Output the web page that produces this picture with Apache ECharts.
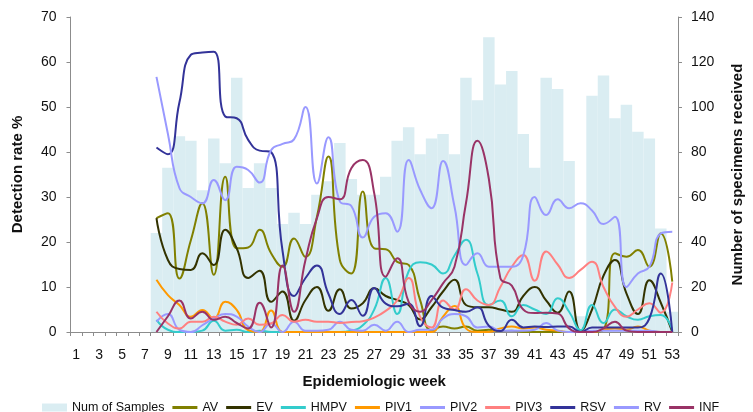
<!DOCTYPE html>
<html>
<head>
<meta charset="utf-8">
<script src="https://cdn.jsdelivr.net/npm/echarts/dist/echarts.min.js"></script>
<style>
  html, body { margin: 0; padding: 0; background: #ffffff; }
  #chart { width: 753px; height: 412px; }
</style>
</head>
<body>
<div id="chart"></div>
<script>
// Epidemiologic weeks 1..53
const weeks = ['1','2','3','4','5','6','7','8','9','10','11','12','13','14','15','16','17','18','19','20',
  '21','22','23','24','25','26','27','28','29','30','31','32','33','34','35','36','37','38','39','40',
  '41','42','43','44','45','46','47','48','49','50','51','52','53'];

// Axis ticks
const rateTicks = [0, 10, 20, 30, 40, 50, 60, 70];
const sampleTicks = [0, 20, 40, 60, 80, 100, 120, 140];

// Weeks 1-7 have no data
const noData = [null, null, null, null, null, null, null];

// Number of specimens received per week (weeks 8-53)
const samples = noData.concat([44, 73, 87, 85, 63, 86, 75, 113, 64, 75, 64, 48, 53, 48, 61, 67, 84, 68, 61, 61,
  69, 85, 91, 79, 86, 88, 79, 113, 103, 131, 110, 116, 88, 73, 113, 108, 76, 7, 105, 114,
  95, 101, 89, 86, 46, 9]);

// Detection rate % per virus (weeks 8-53)
const av = noData.concat([25.3, 26.4, 11.9, 20.4, 28.6, 12.7, 34.5, 18.6, 18.8, 22.7, 17.5, 14.5, 20.8, 16.7, 25.6, 39, 16, 13, 31.2, 18.6,
  18.4, 15.6, 14.9, 7.1, 0.4, 1.2, 0.8, 1.2, 0.3, 0.5, 0.2, 0.3, 0, 0, 0, 0, 0, 0, 0, 0.5,
  17.5, 16.7, 18.2, 14.5, 21.9, 11.2]);
const ev = noData.concat([25.3, 16, 14, 13.8, 17.5, 14.9, 22.7, 18.6, 12, 13.6, 6.7, 9, 2.5, 7.1, 10, 4.7, 9.5, 5.2, 6.4, 9.7,
  8, 7.1, 6, 2.8, 5.5, 9, 11.6, 6, 5.5, 5.5, 5, 4.5, 8, 10, 7, 4.3, 9, 0.3, 5, 12.5,
  16, 8.6, 4, 11.5, 6.5, 0]);
const hmpv = noData.concat([2.7, 0.5, 0, 0, 0.3, 2.5, 0.3, 0.5, 0, 0.3, 0, 0, 0, 0, 0, 0, 0, 0.3, 1.5, 5,
  12, 4, 13.5, 15.5, 15, 13, 17, 20.5, 13, 6, 7, 3.5, 6, 5, 4, 7.5, 4.5, 0.4, 6, 2,
  5, 3.5, 2.7, 3.5, 3.8, 0.4]);
const piv1 = noData.concat([11.6, 8.2, 6, 3.4, 4.9, 3, 6.7, 4.9, 0.4, 0, 4.8, 0, 0, 0, 0, 0, 0, 0, 0, 0,
  0, 0, 0, 0, 0, 3.4, 5.8, 0.8, 0, 0, 0.8, 1.2, 0.8, 1, 0.5, 0.3, 0, 0, 0, 0.5,
  0.8, 0.5, 1.2, 0.3, 0, 0]);
const piv2 = noData.concat([2.3, 4, 0.5, 0, 1.5, 3, 4, 3.4, 1.2, 0, 1.9, 0, 2.3, 0.3, 0.3, 0.5, 2.3, 0.5, 0.3, 1.6,
  0.3, 2.3, 0, 0.5, 0.5, 3, 4, 3.5, 1, 1.2, 0.3, 0.3, 0.3, 0.5, 2, 0.3, 0, 0, 0.3, 0.3,
  0.3, 0.3, 0.3, 0.3, 0, 0]);
const piv3 = noData.concat([4.5, 1.9, 0.8, 2.3, 2.3, 3.4, 2.3, 1.6, 3, 1.6, 1.9, 3.8, 2.3, 2.7, 2.3, 2.3, 2, 2.2, 2.4, 3.2,
  4.7, 7, 12, 3.4, 1, 7, 5, 9.5, 7, 6, 10, 14.5, 17.1, 11.4, 17.9, 15, 12, 13.8, 15.6, 10,
  5.6, 3.4, 5, 6.4, 4.3, 11]);
const rsv = noData.concat([41, 39.5, 51, 61.6, 62.1, 62.3, 47.9, 47.5, 42.7, 40.3, 40, 18, 8, 12, 14.8, 8.5, 4, 7.1, 3.6, 9.8,
  6.3, 5.7, 6.3, 1.3, 8, 5.4, 4.9, 4.5, 5.5, 1.4, 0.2, 2.7, 1, 1.2, 1.1, 1.2, 1.2, 0, 1, 1,
  1, 1, 1, 3, 13, 0]);
const rv = noData.concat([56.7, 44, 32, 30, 28.6, 33.8, 29.3, 36.7, 36, 33.2, 40.4, 41.8, 42.8, 50, 33, 43.3, 29, 28, 21, 25.6,
  26.4, 22.3, 38.2, 31.6, 27.5, 38, 27.9, 14.9, 17.5, 14.5, 14.5, 14.5, 17, 30, 26, 29.5, 27.5, 28.6, 27, 24,
  25.6, 10, 13, 14.5, 21.9, 22.3]);
const inf = noData.concat([0, 3.5, 7, 3, 4.5, 2.7, 3.4, 2, 0.8, 6.5, 1, 14.8, 4.5, 16, 25.3, 30, 29.5, 36.4, 38.2, 30.8,
  12.3, 16.4, 6.7, 4.5, 7.1, 10.8, 14.5, 28.6, 42.5, 34, 12, 10.3, 5, 4.2, 4.3, 4.1, 0.8, 0, 0, 0.8,
  2.3, 0.3, 0, 0, 0, 0]);

const virusSeries = [
  { name: 'AV',   data: av,   color: '#808000' },
  { name: 'EV',   data: ev,   color: '#333300' },
  { name: 'HMPV', data: hmpv, color: '#33cccc' },
  { name: 'PIV1', data: piv1, color: '#ff9900' },
  { name: 'PIV2', data: piv2, color: '#9999ff' },
  { name: 'PIV3', data: piv3, color: '#ff8080' },
  { name: 'RSV',  data: rsv,  color: '#333399' },
  { name: 'RV',   data: rv,   color: '#9999ff' },
  { name: 'INF',  data: inf,  color: '#993366' }
];

const FONT = '"Liberation Sans", Arial, sans-serif';
const AXIS_GRAY = '#8c8c8c';
const TEXT = '#111111';
// thin horizontal stroke used as the legend key of each line series
const LINE_KEY = 'path://M0,0H25V3H0Z';

const chart = echarts.init(document.getElementById('chart'), null, { renderer: 'canvas' });

const series = [{
  name: 'Num of Samples',
  type: 'bar',
  yAxisIndex: 1,
  data: samples,
  barWidth: '100%',
  barCategoryGap: '0%',
  itemStyle: { color: '#daedf2' },
  z: 1
}].concat(virusSeries.map(s => ({
  name: s.name,
  type: 'line',
  yAxisIndex: 0,
  data: s.data,
  smooth: 0.5,
  symbol: 'none',
  connectNulls: false,
  lineStyle: { width: 2, color: s.color },
  itemStyle: { color: s.color },
  z: 3
})));

chart.setOption({
  animation: false,
  backgroundColor: '#ffffff',
  textStyle: { fontFamily: FONT },
  grid: { left: 70.5, right: 74.5, top: 17, bottom: 80, containLabel: false },
  legend: {
    left: 37,
    top: 396,
    itemWidth: 25,
    itemHeight: 8,
    itemGap: 8,
    symbolKeepAspect: true,
    textStyle: { fontFamily: FONT, fontSize: 12.5, color: TEXT },
    data: [{ name: 'Num of Samples', icon: 'rect' }].concat(virusSeries.map(s => ({ name: s.name, icon: LINE_KEY })))
  },
  xAxis: {
    type: 'category',
    data: weeks,
    boundaryGap: true,
    name: 'Epidemiologic week',
    nameLocation: 'middle',
    nameGap: 42,
    nameTextStyle: { fontFamily: FONT, fontSize: 15, fontWeight: 'bold', color: TEXT },
    axisLine: { show: true, lineStyle: { color: AXIS_GRAY, width: 1 } },
    axisTick: { show: true, interval: 0, length: 4, lineStyle: { color: AXIS_GRAY } },
    axisLabel: { interval: 1, fontSize: 14, color: TEXT, margin: 16, fontFamily: FONT },
    splitLine: { show: false }
  },
  yAxis: [{
    type: 'value',
    position: 'left',
    min: rateTicks[0],
    max: rateTicks[rateTicks.length - 1],
    interval: rateTicks[1] - rateTicks[0],
    name: 'Detection rate %',
    nameLocation: 'middle',
    nameRotate: 90,
    nameGap: 45,
    nameTextStyle: { fontFamily: FONT, fontSize: 15, fontWeight: 'bold', color: TEXT },
    axisLine: { show: true, lineStyle: { color: AXIS_GRAY } },
    axisTick: { show: true, length: 4, lineStyle: { color: AXIS_GRAY } },
    axisLabel: { fontSize: 14, color: TEXT, margin: 14, fontFamily: FONT },
    splitLine: { show: false }
  }, {
    type: 'value',
    position: 'right',
    min: sampleTicks[0],
    max: sampleTicks[sampleTicks.length - 1],
    interval: sampleTicks[1] - sampleTicks[0],
    name: 'Number of specimens received',
    nameLocation: 'middle',
    nameRotate: 90,
    nameGap: 52,
    nameTextStyle: { fontFamily: FONT, fontSize: 15, fontWeight: 'bold', color: TEXT },
    axisLine: { show: true, lineStyle: { color: AXIS_GRAY } },
    axisTick: { show: true, length: 4, lineStyle: { color: AXIS_GRAY } },
    axisLabel: { fontSize: 14, color: TEXT, margin: 13, fontFamily: FONT },
    splitLine: { show: false }
  }],
  series: series
});
</script>
</body>
</html>
